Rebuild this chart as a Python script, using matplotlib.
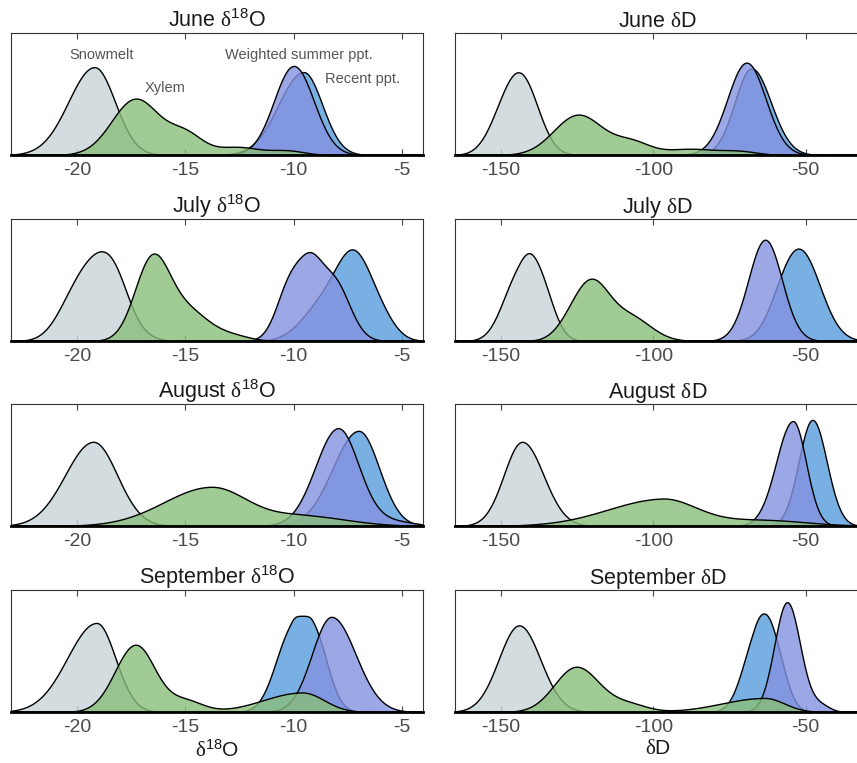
import numpy as np
import matplotlib
matplotlib.use('Agg')
import matplotlib.pyplot as plt
from matplotlib.colors import to_rgba

plt.rcParams['font.family'] = ['Liberation Sans', 'DejaVu Sans']
plt.rcParams['mathtext.fontset'] = 'custom'
plt.rcParams['mathtext.rm'] = 'Liberation Sans'
plt.rcParams['mathtext.sf'] = 'Liberation Serif'
plt.rcParams['mathtext.it'] = 'Liberation Sans:italic'
plt.rcParams['mathtext.default'] = 'rm'
plt.rcParams['axes.unicode_minus'] = False

# ---------------- data ----------------
MONTHS = ['June', 'July', 'August', 'September']
SOURCES = ['Snowmelt', 'Recent ppt.', 'Weighted summer ppt.', 'Xylem']

# density peaks:
# (centre, left width, right width, peak height as fraction of panel height)
jun_o_snow = [(-19.2, 1.2, 0.95, 0.72)]
jun_o_recent = [(-9.55, 1.15, 0.87, 0.68)]
jun_o_weighted = [(-10.0, 0.91, 0.93, 0.73)]
jun_o_xylem = [(-17.3, 1.1, 1.1, 0.46), (-15.0, 0.8, 0.8, 0.16), (-12.6, 1.0, 1.0, 0.065), (-10.3, 0.8, 0.8, 0.035)]

jun_d_snow = [(-143, 5.5, 5.5, 0.59), (-150, 5, 5, 0.2)]
jun_d_recent = [(-67.8, 5.5, 6.4, 0.71)]
jun_d_weighted = [(-69.4, 6.3, 6.3, 0.757)]
jun_d_xylem = [(-124.6, 8, 8, 0.33), (-107, 6, 6, 0.1), (-88, 8, 8, 0.05), (-72, 6, 6, 0.03)]

jul_o_snow = [(-19.0, 1.05, 1.05, 0.66), (-20.4, 0.75, 0.75, 0.13), (-18.2, 0.6, 0.6, 0.12)]
jul_o_recent = [(-7.2, 0.8, 0.8, 0.6), (-8.6, 1.0, 1.0, 0.3), (-6.0, 0.7, 0.7, 0.15)]
jul_o_weighted = [(-10.1, 0.65, 0.65, 0.5), (-9.2, 0.5, 0.5, 0.33), (-8.2, 0.75, 0.75, 0.5)]
jul_o_xylem = [(-16.55, 0.8, 0.8, 0.65), (-14.9, 1.0, 1.0, 0.24), (-12.8, 0.8, 0.8, 0.04)]

jul_d_snow = [(-145, 5, 5, 0.45), (-137.5, 4.5, 4.5, 0.45), (-141, 2.5, 2.5, 0.06)]
jul_d_recent = [(-51.5, 6.5, 6.5, 0.7), (-58, 5, 5, 0.12)]
jul_d_weighted = [(-63.3, 5.5, 5.5, 0.83)]
jul_d_xylem = [(-120, 5.5, 5.5, 0.42), (-127, 5, 5, 0.12), (-108, 7, 7, 0.2)]

aug_o_snow = [(-19.25, 1.3, 1.1, 0.69)]
aug_o_recent = [(-7.0, 1.2, 0.95, 0.78)]
aug_o_weighted = [(-7.95, 1.05, 0.95, 0.8), (-5.5, 1.0, 1.0, 0.04)]
aug_o_xylem = [(-13.8, 2.2, 1.7, 0.32), (-9.5, 1.5, 2.0, 0.08)]

aug_d_snow = [(-143, 6, 7, 0.69)]
aug_d_recent = [(-47.8, 4.5, 4.7, 0.87)]
aug_d_weighted = [(-54.2, 5.5, 4.3, 0.86)]
aug_d_xylem = [(-97, 18, 11, 0.22), (-65, 15, 15, 0.05)]

sep_o_snow = [(-19.1, 1.35, 0.87, 0.73)]
sep_o_recent = [(-10.1, 0.75, 0.5, 0.65), (-9.1, 0.5, 0.65, 0.65)]
sep_o_weighted = [(-8.26, 0.9, 1.12, 0.78)]
sep_o_xylem = [(-17.3, 0.95, 0.9, 0.55), (-15.0, 0.8, 0.8, 0.09), (-9.6, 1.8, 1.0, 0.16)]

sep_d_snow = [(-144, 6.7, 7.0, 0.71)]
sep_d_recent = [(-66.5, 4.5, 3.5, 0.55), (-61, 3.5, 4, 0.55)]
sep_d_weighted = [(-56.1, 4.2, 4.3, 0.9), (-45, 3, 3, 0.05)]
sep_d_xylem = [(-125.2, 7.2, 7.5, 0.37), (-108, 6, 6, 0.06), (-63.5, 14, 6.5, 0.115)]

O_PANELS = [
    [jun_o_snow, jun_o_recent, jun_o_weighted, jun_o_xylem],
    [jul_o_snow, jul_o_recent, jul_o_weighted, jul_o_xylem],
    [aug_o_snow, aug_o_recent, aug_o_weighted, aug_o_xylem],
    [sep_o_snow, sep_o_recent, sep_o_weighted, sep_o_xylem],
]
D_PANELS = [
    [jun_d_snow, jun_d_recent, jun_d_weighted, jun_d_xylem],
    [jul_d_snow, jul_d_recent, jul_d_weighted, jul_d_xylem],
    [aug_d_snow, aug_d_recent, aug_d_weighted, aug_d_xylem],
    [sep_d_snow, sep_d_recent, sep_d_weighted, sep_d_xylem],
]

O_TICKS = [-20, -15, -10, -5]
O_TICKLABELS = ['-20', '-15', '-10', '-5']
D_TICKS = [-150, -100, -50]
D_TICKLABELS = ['-150', '-100', '-50']

# ---------------- style ----------------
FACE = {
    'Snowmelt': '#c8d4d8',
    'Recent ppt.': '#579ddc',
    'Weighted summer ppt.': '#8492e0',
    'Xylem': '#89be7a',
}
ALPHA = 0.8

W, H = 857, 763
fig = plt.figure(figsize=(W / 100, H / 100), dpi=100)

row_bottom_px = [155, 341, 526, 712]
ax_h_px = 122
col_left_px = [11, 455]
col_w_px = [412, 405]
xlims = [(-23.05, -4.03), (-165.0, -32.2)]


def density(x, comps):
    y = np.zeros_like(x)
    for mu, sl, sr, amp in comps:
        s = np.where(x < mu, sl, sr)
        y += amp * np.exp(-0.5 * ((x - mu) / s) ** 2)
    return y


for r, month in enumerate(MONTHS):
    for c in range(2):
        left = col_left_px[c] / W
        bottom = 1 - row_bottom_px[r] / H
        ax = fig.add_axes([left, bottom, col_w_px[c] / W, ax_h_px / H])
        x = np.linspace(xlims[c][0], xlims[c][1], 800)
        panel = O_PANELS[r] if c == 0 else D_PANELS[r]
        for name, comps in zip(SOURCES, panel):
            y = density(x, comps)
            ax.fill_between(x, 0, y, facecolor=to_rgba(FACE[name], ALPHA),
                            edgecolor='black', linewidth=1.0, zorder=1)
        ax.set_xlim(*xlims[c])
        ax.set_ylim(0, 1)
        ax.set_yticks([])
        ax.set_axisbelow(True)
        if c == 0:
            ax.set_xticks(O_TICKS)
            ax.set_xticklabels(O_TICKLABELS)
            title = month + r' $\mathsf{\delta}^{18}$O'
        else:
            ax.set_xticks(D_TICKS)
            ax.set_xticklabels(D_TICKLABELS)
            title = month + r' $\mathsf{\delta}$D'
        ax.tick_params(axis='x', direction='in', top=True, bottom=True,
                       length=4, width=0.8, color='#444444',
                       labelsize=14, labelcolor='#4a4a4a', pad=5)
        for s in ['top', 'left', 'right']:
            ax.spines[s].set_linewidth(0.8)
            ax.spines[s].set_color('#333333')
        ax.spines['bottom'].set_linewidth(2.0)
        ax.spines['bottom'].set_color('black')
        ax.set_title(title, fontsize=15.5, color='#1a1a1a', pad=4)
        if r == 3:
            lab = r'$\mathsf{\delta}^{18}$O' if c == 0 else r'$\mathsf{\delta}$D'
            ax.set_xlabel(lab, fontsize=15, color='#1a1a1a', labelpad=2)
        if r == 0 and c == 0:
            ax.text(-18.86, 0.82, 'Snowmelt', ha='center', va='center', fontsize=10.5, color='#555555')
            ax.text(-15.93, 0.55, 'Xylem', ha='center', va='center', fontsize=10.5, color='#555555')
            ax.text(-9.77, 0.82, 'Weighted summer ppt.', ha='center', va='center', fontsize=10.5, color='#555555')
            ax.text(-6.82, 0.62, 'Recent ppt.', ha='center', va='center', fontsize=10.5, color='#555555')

fig.savefig('out.png', dpi=100)
